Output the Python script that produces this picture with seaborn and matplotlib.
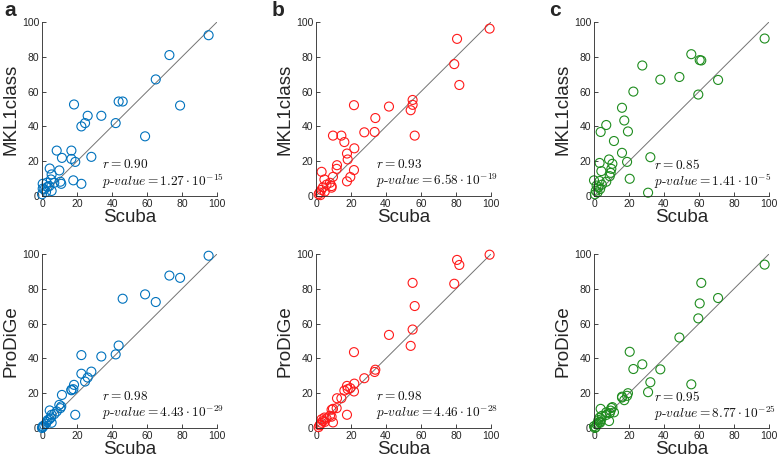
import numpy as np
import pandas as pd
import seaborn as sns
import matplotlib.pyplot as plt

# Scuba scores (x) shared by the top (MKL1class) and bottom (ProDiGe) rows
scuba_a = [95.2, 72.8, 78.9, 65.0, 58.9, 46.1, 43.8, 42.1, 33.9, 28.2, 26.1, 24.6, 22.5,
           22.5, 19.0, 18.3, 17.9, 16.8, 16.8, 11.4, 11.0, 10.5, 9.9, 8.4, 7.0, 5.5, 5.1,
           5.5, 4.4, 4.2, 3.2, 2.7, 2.3, 1.3, 0.4, 0.4, 0.0]
mkl_a = [92.4, 81.0, 52.0, 67.0, 34.3, 54.3, 54.3, 41.9, 46.1, 22.5, 46.1, 41.9, 40.0,
         7.0, 19.6, 52.6, 9.0, 26.1, 21.3, 21.9, 7.0, 8.2, 14.7, 26.1, 7.6, 12.4, 9.5,
         2.9, 15.8, 5.7, 5.3, 7.6, 2.3, 3.8, 7.0, 4.2, 1.0]
prodige_a = [99.0, 87.6, 86.3, 72.4, 76.8, 74.3, 47.4, 42.3, 41.1, 32.4, 29.0, 26.7, 41.9,
             31.2, 7.6, 24.8, 22.3, 21.7, 22.0, 19.0, 12.4, 11.4, 13.3, 9.5, 8.0, 7.6, 6.0,
             3.0, 10.1, 5.0, 4.5, 3.5, 2.5, 1.5, 1.0, 0.5, 0.0]

scuba_b = [99.2, 80.6, 81.9, 79.0, 55.2, 56.4, 55.2, 54.1, 41.7, 21.7, 33.9, 33.5, 27.6,
           9.7, 14.5, 16.2, 21.9, 17.7, 18.1, 12.0, 11.8, 21.7, 19.6, 17.7, 9.7, 3.2, 4.8,
           8.0, 8.9, 8.9, 6.0, 4.0, 3.0, 2.0, 1.5, 5.0, 2.5]
mkl_b = [96.2, 90.3, 63.8, 75.8, 55.2, 34.7, 52.4, 49.3, 51.4, 52.2, 44.8, 36.8, 36.6,
         34.7, 34.7, 31.0, 27.4, 24.4, 21.0, 17.7, 15.6, 14.9, 10.9, 8.4, 11.0, 13.9, 9.5,
         7.6, 5.7, 4.8, 6.5, 5.0, 3.5, 2.0, 1.0, 2.5, 0.5]
prodige_b = [99.6, 96.6, 93.7, 82.9, 83.4, 70.1, 56.6, 47.2, 53.5, 43.6, 33.5, 32.2, 28.6,
             3.2, 17.1, 21.5, 25.5, 24.2, 22.3, 17.1, 11.4, 21.0, 22.9, 7.6, 11.0, 5.0, 6.0,
             7.0, 10.5, 6.5, 5.5, 4.0, 3.0, 1.5, 0.5, 3.5, 2.0]

scuba_c = [97.5, 55.6, 60.4, 61.3, 27.6, 37.9, 48.8, 70.9, 59.6, 22.5, 16.0, 17.3, 19.4,
           7.0, 3.8, 11.4, 16.0, 32.2, 18.9, 20.4, 30.9, 3.2, 8.6, 10.5, 9.9, 9.5, 4.2,
           9.0, 0.0, 3.2, 7.0, 1.5, 2.5, 3.5, 1.0, 2.0, 0.5, 4.5]
mkl_c = [90.5, 81.5, 78.1, 77.9, 75.0, 66.9, 68.4, 66.7, 58.3, 60.0, 50.7, 43.4, 37.1,
         40.8, 36.8, 31.6, 24.8, 22.3, 19.6, 9.9, 1.9, 19.0, 21.0, 18.5, 15.6, 13.3, 14.3,
         11.4, 9.0, 8.6, 8.2, 6.0, 5.0, 4.0, 3.0, 2.0, 1.0, 6.5]
prodige_c = [93.9, 25.1, 71.6, 83.4, 36.6, 33.7, 52.0, 74.7, 63.0, 33.9, 17.5, 16.0, 20.0,
             9.0, 11.0, 9.0, 18.0, 26.3, 18.5, 43.8, 20.6, 6.0, 4.0, 12.0, 11.5, 10.0, 5.0,
             8.5, 1.0, 3.5, 7.5, 2.0, 4.5, 3.0, 0.5, 2.5, 0.0, 7.0]

panel_letters = ["a", "b", "c"]
colors = ["#0072BD", "#FF1A1A", "#1E8C1E"]
r_top = ["0.90", "0.93", "0.85"]
p_top = [r"1.27 \cdot 10^{-15}", r"6.58 \cdot 10^{-19}", r"1.41 \cdot 10^{-5}"]
r_bottom = ["0.98", "0.98", "0.95"]
p_bottom = [r"4.43 \cdot 10^{-29}", r"4.46 \cdot 10^{-28}", r"8.77 \cdot 10^{-25}"]

datasets = [
    (scuba_a, mkl_a, prodige_a),
    (scuba_b, mkl_b, prodige_b),
    (scuba_c, mkl_c, prodige_c),
]

sns.set_style("ticks")
plt.rcParams["font.family"] = ["Liberation Sans", "DejaVu Sans"]
plt.rcParams["mathtext.fontset"] = "cm"

W, H = 777, 459
fig = plt.figure(figsize=(W / 100, H / 100), dpi=100)

lefts = [42, 316, 594]
tops = [22, 254]
ax_w, ax_h = 175, 174
dark = "#262626"

for col, (scuba, mkl, prodige) in enumerate(datasets):
    for row, (yvals, ylab, rv, pv) in enumerate([
        (mkl, "MKL1class", r_top[col], p_top[col]),
        (prodige, "ProDiGe", r_bottom[col], p_bottom[col]),
    ]):
        ax = fig.add_axes([lefts[col] / W, (H - tops[row] - ax_h) / H, ax_w / W, ax_h / H])
        df = pd.DataFrame({"Scuba": scuba, ylab: yvals})
        ax.plot([0, 100], [0, 100], color="0.45", lw=0.7, zorder=1)
        sns.scatterplot(data=df, x="Scuba", y=ylab, ax=ax, s=42, marker="o",
                        color=colors[col], facecolor="none", edgecolor=colors[col],
                        linewidth=0.8, clip_on=False, zorder=2)
        ax.set_xlim(0, 100)
        ax.set_ylim(0, 100)
        ax.set_xticks(range(0, 101, 20))
        ax.set_yticks(range(0, 101, 20))
        ax.tick_params(direction="in", length=3, width=0.6, labelsize=7.5,
                       colors=dark, pad=2)
        for side in ["left", "bottom"]:
            ax.spines[side].set_linewidth(0.6)
            ax.spines[side].set_color(dark)
        sns.despine(ax=ax)
        ax.set_xlabel("Scuba", fontsize=13.5, color=dark)
        ax.set_ylabel(ylab, fontsize=13.5, color=dark)
        ax.xaxis.set_label_coords(0.5, -0.075)
        ax.yaxis.set_label_coords(-0.13, 0.5)
        ax.text(0.345, 0.18, rf"$r = {rv}$", transform=ax.transAxes,
                fontsize=9.6, va="center", ha="left", color="#111111")
        ax.text(0.345, 0.085, rf"$p\text{{-}}value = {pv}$", transform=ax.transAxes,
                fontsize=9.6, va="center", ha="left", color="#111111")
        if row == 0:
            fig.text([10, 278, 555][col] / W, 1 - 10 / H, panel_letters[col],
                     fontsize=15, fontweight="bold", ha="center", va="center")

fig.savefig("out.png", dpi=100, facecolor="white")
